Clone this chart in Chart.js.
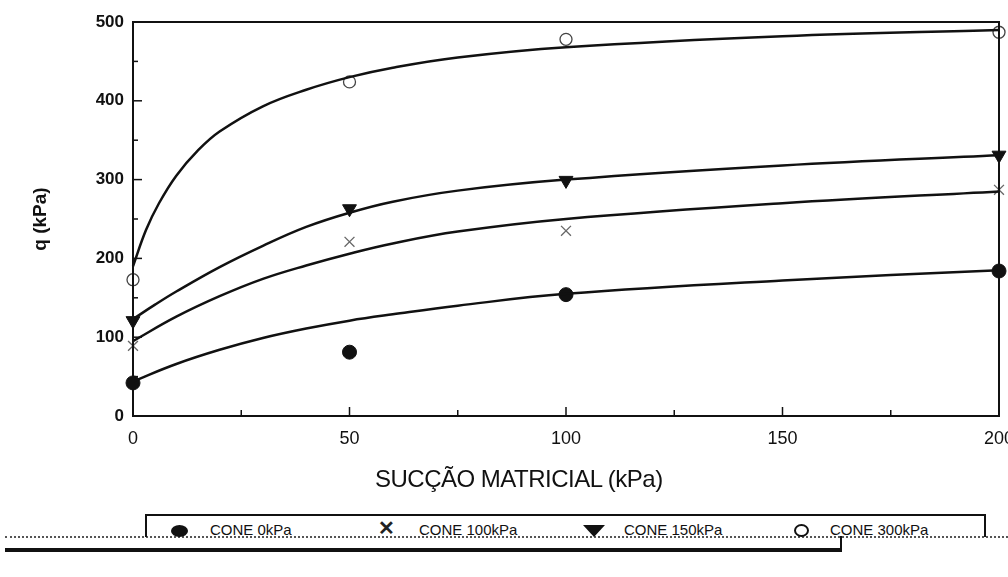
<!DOCTYPE html>
<html>
<head>
<meta charset="utf-8">
<script src="https://cdn.jsdelivr.net/npm/chart.js@4"></script>
<style>
  body { margin: 0; background: #fff; width: 1008px; height: 577px; overflow: hidden; position: relative; font-family: "Liberation Sans", Arial, sans-serif; }
  #wrap { position: absolute; left: 0; top: 0; width: 1008px; height: 500px; }
  #xtitle { position: absolute; left: 375px; top: 465px; font-size: 24px; letter-spacing: -0.5px; color: #111; white-space: nowrap; }
  #legend { position: absolute; left: 145px; top: 514px; width: 841px; height: 23px; border: 2px solid #111; border-bottom: none; box-sizing: border-box; }
  .item { position: absolute; top: 5px; font-size: 15px; color: #111; white-space: nowrap; }
  .mk { position: absolute; box-sizing: border-box; }
  .m0 { top: 9px; width: 17px; height: 12px; border-radius: 50%; background: #111; }
  .m1 { top: 2px; font-size: 20px; line-height: 20px; font-weight: bold; color: #222; }
  .m2 { top: 9px; width: 0; height: 0; border-left: 11px solid transparent; border-right: 11px solid transparent; border-top: 12px solid #111; }
  .m3 { top: 8px; width: 15px; height: 13px; border-radius: 50%; border: 2.5px solid #111; background: #fff; }
  #thick { position: absolute; left: 5px; top: 548px; width: 837px; height: 4px; background: #111; }
  #stub { position: absolute; left: 840px; top: 536px; width: 2px; height: 15px; background: #111; }
  #dots { position: absolute; left: 5px; top: 536px; width: 1003px; height: 0; border-top: 2px dotted #555; }
</style>
</head>
<body>
<div id="wrap"><canvas id="chart"></canvas></div>
<div id="xtitle">SUCÇÃO MATRICIAL (kPa)</div>
<div id="dots"></div>
<div id="legend"></div>
<div id="thick"></div>
<div id="stub"></div>
<script>
// measured points
const suction = [0, 50, 100, 200];
const cone0 = [42, 81, 154, 184];
const cone100 = [89, 221, 235, 287];
const cone150 = [121, 263, 299, 331];
const cone300 = [173, 424, 478, 487];

// fitted curves
const fitX0 = [0, 10, 20, 30, 40, 50, 60, 75, 100, 150, 200];
const fit0 = [44, 66, 84, 99, 111, 121, 129, 140, 155, 172, 185];
const fitX100 = [0, 10, 20, 30, 40, 50, 60, 75, 100, 150, 200];
const fit100 = [95, 126, 152, 174, 191, 206, 219, 234, 250, 270, 285];
const fitX150 = [0, 5, 10, 20, 30, 40, 50, 60, 75, 100, 150, 200];
const fit150 = [123, 141, 158, 189, 216, 240, 258, 272, 286, 300, 318, 331];
const fitX300 = [0, 3, 6, 10, 15, 20, 30, 40, 50, 60, 75, 100, 150, 200];
const fit300 = [190, 236, 270, 305, 337, 361, 393, 414, 430, 442, 455, 468, 482, 490];

const legendLabels = ['CONE 0kPa', 'CONE 100kPa', 'CONE 150kPa', 'CONE 300kPa'];
const xTicks = [0, 50, 100, 150, 200];
const yTicks = [0, 100, 200, 300, 400, 500];

const pts = (xs, ys) => xs.map((x, i) => ({ x: x, y: ys[i] }));

function curve(xs, ys) {
  return {
    data: pts(xs, ys), showLine: true, borderColor: '#111', borderWidth: 2.5,
    pointRadius: 0, tension: 0.4, fill: false, clip: false
  };
}

function marks(ys, style, opts) {
  return Object.assign({
    data: pts(suction, ys), showLine: false, pointStyle: style, pointRadius: 7,
    backgroundColor: '#111', borderColor: '#111', borderWidth: 1, clip: false
  }, opts || {});
}

// inward tick marks + frame
const frame = {
  id: 'frame',
  afterDatasetsDraw(chart) {
    const { ctx, chartArea: a, scales } = chart;
    ctx.save();
    ctx.strokeStyle = '#111';
    ctx.lineWidth = 2;
    ctx.strokeRect(a.left, a.top, a.right - a.left, a.bottom - a.top);
    ctx.lineWidth = 1.5;
    for (let v = 25; v < 200; v += 25) {
      const x = scales.x.getPixelForValue(v);
      const len = v % 50 === 0 ? 9 : 6;
      ctx.beginPath(); ctx.moveTo(x, a.bottom); ctx.lineTo(x, a.bottom - len); ctx.stroke();
    }
    for (let v = 50; v < 500; v += 50) {
      const y = scales.y.getPixelForValue(v);
      const len = v % 100 === 0 ? 9 : 5;
      ctx.beginPath(); ctx.moveTo(a.left, y); ctx.lineTo(a.left + len, y); ctx.stroke();
    }
    ctx.restore();
  }
};

new Chart(document.getElementById('chart'), {
  type: 'scatter',
  data: {
    datasets: [
      curve(fitX0, fit0), curve(fitX100, fit100), curve(fitX150, fit150), curve(fitX300, fit300),
      marks(cone0, 'circle', { pointRadius: 7 }),
      marks(cone100, 'crossRot', { borderColor: '#666', borderWidth: 1.3, pointRadius: 7 }),
      marks(cone150, 'triangle', { rotation: 180, pointRadius: 8 }),
      marks(cone300, 'circle', { backgroundColor: '#fff', borderColor: '#444', borderWidth: 1.3, pointRadius: 6 })
    ]
  },
  options: {
    responsive: true,
    maintainAspectRatio: false,
    animation: false,
    layout: { padding: { top: 22, right: 8, left: 0, bottom: 0 } },
    plugins: { legend: { display: false }, tooltip: { enabled: false } },
    scales: {
      x: {
        type: 'linear', min: 0, max: 200,
        afterBuildTicks: s => { s.ticks = xTicks.map(v => ({ value: v })); },
        afterFit: s => { s.height = 84; s.paddingRight = 0; s.paddingLeft = 0; },
        grid: { display: false, drawTicks: false },
        border: { display: false },
        ticks: { color: '#111', padding: 12, font: { family: 'Liberation Sans', size: 18 } }
      },
      y: {
        min: 0, max: 500,
        afterBuildTicks: s => { s.ticks = yTicks.map(v => ({ value: v })); },
        afterFit: s => { s.width = 133; s.paddingTop = 0; s.paddingBottom = 0; },
        grid: { display: false, drawTicks: false },
        border: { display: false },
        ticks: { color: '#111', padding: 9, font: { family: 'Liberation Sans', size: 17, weight: 'bold' } },
        title: { display: true, text: 'q (kPa)', color: '#111', padding: { top: 29, bottom: 0 }, font: { family: 'Liberation Sans', size: 19, weight: 'bold' } }
      }
    }
  },
  plugins: [frame]
});

// legend box
const mkLeft = [24, 231, 436, 647];
const txLeft = [63, 272, 477, 683];
const lg = document.getElementById('legend');
legendLabels.forEach((t, i) => {
  const glyph = i === 1 ? '\u2715' : '';
  lg.innerHTML += `<span class="mk m${i}" style="left:${mkLeft[i]}px">${glyph}</span>` +
    `<span class="item" style="left:${txLeft[i]}px">${t}</span>`;
});
</script>
</body>
</html>
